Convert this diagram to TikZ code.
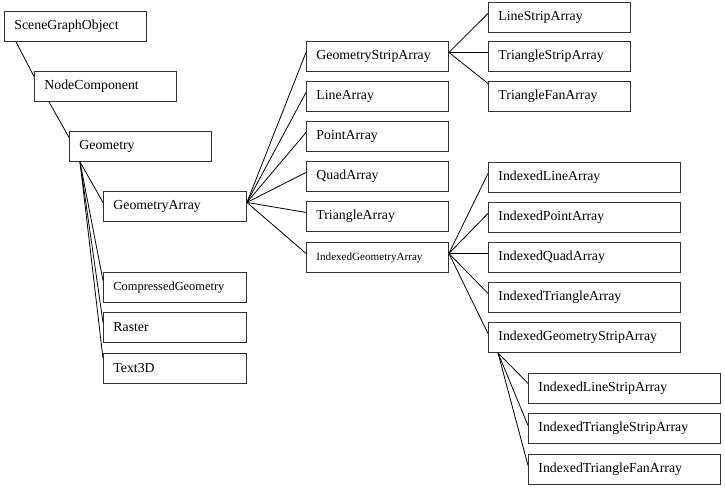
\documentclass[tikz,border=0pt]{standalone}
\usepackage{fontspec}
\setmainfont{Liberation Serif}
\begin{document}
\begin{tikzpicture}[x=1pt,y=-1pt,
  boxbase/.style={draw=black!80, line width=0.9pt, anchor=north west, minimum height=30pt,
    inner xsep=10pt, inner ysep=0pt, align=left, font=\fontsize{13.8}{16}\selectfont},
  bn/.style={boxbase, text width=122pt},
  bm/.style={boxbase, text width=123pt},
  bw/.style={boxbase, text width=172pt},
  conn/.style={draw=black, line width=0.8pt}]
\useasboundingbox (0,0) rectangle (725,490);
% left column
\node[bn] (sgo) at (4,11) {SceneGraphObject};
\node[bn] (nc) at (34,71) {NodeComponent};
\node[bn] (geo) at (69,131) {Geometry};
\node[bm] (ga) at (103,191) {GeometryArray};
\node[bm, font=\fontsize{12.4}{14}\selectfont] (cg) at (103,272) {CompressedGeometry};
\node[bm] (ras) at (103,312) {Raster};
\node[bm] (t3d) at (103,353) {Text3D};
% middle column
\node[bn] (gsa) at (306,41) {GeometryStripArray};
\node[bn] (la) at (306,81) {LineArray};
\node[bn] (pa) at (306,121) {PointArray};
\node[bn] (qa) at (306,161) {QuadArray};
\node[bn] (ta) at (306,201) {TriangleArray};
\node[bn, font=\fontsize{11.1}{13}\selectfont] (iga) at (306,242) {IndexedGeometryArray};
% right column
\node[bn] (lsa) at (488,1.5) {LineStripArray};
\node[bn] (tsa) at (488,41) {TriangleStripArray};
\node[bn] (tfa) at (488,81) {TriangleFanArray};
\node[bw] (ila) at (488,162) {IndexedLineArray};
\node[bw] (ipa) at (488,202) {IndexedPointArray};
\node[bw] (iqa) at (488,242) {IndexedQuadArray};
\node[bw] (ita) at (488,282) {IndexedTriangleArray};
\node[bw] (igsa) at (488,322) {IndexedGeometryStripArray};
\node[bw] (ilsa) at (528,373) {IndexedLineStripArray};
\node[bw] (itsa) at (528,413) {IndexedTriangleStripArray};
\node[bw] (itfa) at (528,454) {IndexedTriangleFanArray};
% connectors
\draw[conn] ([xshift=12pt]sgo.south west) -- ([yshift=10pt]nc.west);
\draw[conn] ([xshift=15pt]nc.south west) -- ([yshift=9pt]geo.west);
\coordinate (gorg) at ([xshift=11pt]geo.south west);
\draw[conn] (gorg) -- ([yshift=4pt]ga.west);
\draw[conn] (gorg) -- ([yshift=7pt]cg.west);
\draw[conn] (gorg) -- ([yshift=5pt]ras.west);
\draw[conn] (gorg) -- ([yshift=10pt]t3d.west);
\coordinate (gaorg) at ([yshift=4pt]ga.east);
\foreach \n in {gsa,la,pa,qa,ta,iga}
  \draw[conn] (gaorg) -- ([yshift=4pt]\n.west);
\coordinate (gsaorg) at ([yshift=4pt]gsa.east);
\draw[conn] (gsaorg) -- ([yshift=3.5pt]lsa.west);
\draw[conn] (gsaorg) -- ([yshift=4pt]tsa.west);
\draw[conn] (gsaorg) -- ([yshift=13pt]tfa.west);
\coordinate (igaorg) at ([yshift=4pt]iga.east);
\foreach \n in {ila,ipa,iqa,ita,igsa}
  \draw[conn] (igaorg) -- ([yshift=4pt]\n.west);
\coordinate (igsaorg) at ([xshift=10pt]igsa.south west);
\draw[conn] (igsaorg) -- ([yshift=5pt]ilsa.west);
\draw[conn] (igsaorg) -- ([yshift=3pt]itsa.west);
\draw[conn] (igsaorg) -- ([yshift=4pt]itfa.west);
\end{tikzpicture}
\end{document}
